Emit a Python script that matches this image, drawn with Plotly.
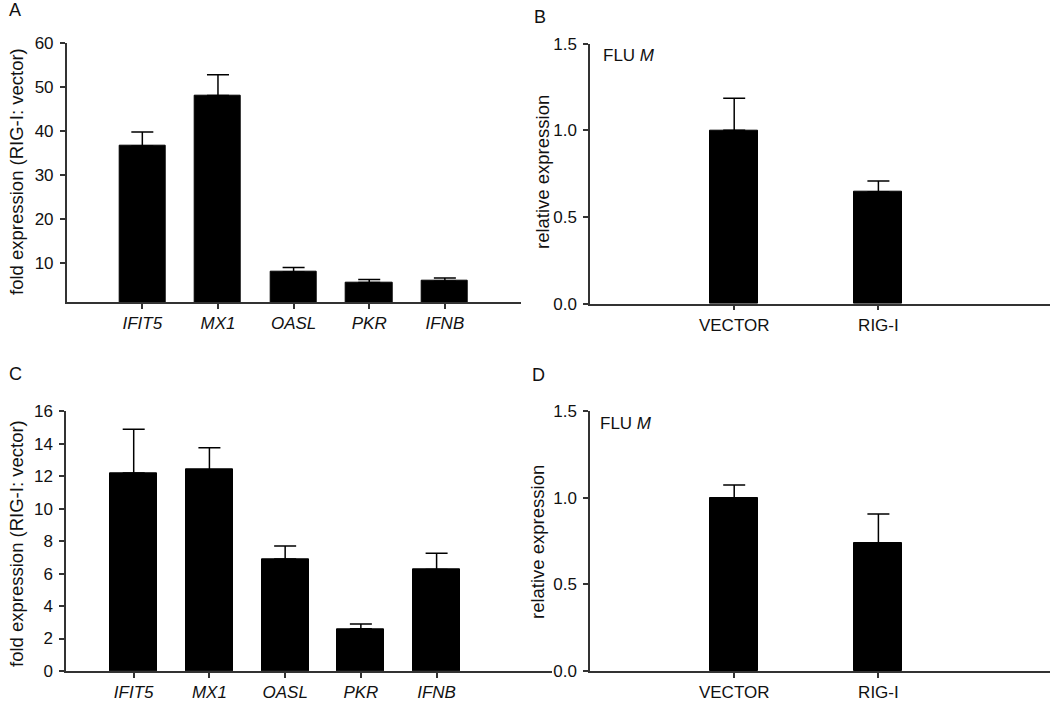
import plotly.graph_objects as go

# ---------------- data ----------------
genes = ["IFIT5", "MX1", "OASL", "PKR", "IFNB"]
fold_A = [36.5, 48.0, 7.9, 5.5, 5.8]
err_A = [3.2, 4.7, 1.0, 0.7, 0.7]

fold_C = [12.2, 12.4, 6.9, 2.6, 6.25]
err_C = [2.7, 1.35, 0.8, 0.3, 1.0]

groups = ["VECTOR", "RIG-I"]
rel_B = [1.0, 0.646]
err_B = [0.185, 0.062]
rel_D = [1.0, 0.74]
err_D = [0.073, 0.166]

FONT = "Liberation Sans, Arial, sans-serif"
AX = "#333333"
TXT = "#111111"
W, H = 1050, 703


def px_x(p):
    return p / W


def px_y(p):
    return 1 - p / H


fig = go.Figure()


def add_bars(x, y, e, xa, ya, width):
    fig.add_trace(go.Bar(
        x=x, y=y, xaxis=xa, yaxis=ya, width=width,
        marker=dict(color="black", line=dict(color="black", width=1)),
        error_y=dict(type="data", array=e, arrayminus=[0] * len(e), symmetric=False,
                     color="black", thickness=1.5, width=11),
        showlegend=False, hoverinfo="x+y",
    ))


add_bars(genes, fold_A, err_A, "x", "y", 0.61)
add_bars(groups, rel_B, err_B, "x2", "y2", 0.333)
add_bars(genes, fold_C, err_C, "x3", "y3", 0.62)
add_bars(groups, rel_D, err_D, "x4", "y4", 0.333)

axis_common = dict(showline=True, linecolor=AX, linewidth=1.5, ticks="outside",
                   ticklen=5, tickwidth=1.5, tickcolor=AX, showgrid=False,
                   zeroline=False, automargin=False,
                   tickfont=dict(family=FONT, size=17, color=TXT))
italic_font = dict(family=FONT, size=17, color=TXT, style="italic")
y_common = {**axis_common, "ticklabelstandoff": 3}

fig.update_layout(
    width=W, height=H, autosize=False,
    margin=dict(l=0, r=0, t=0, b=0, pad=0),
    paper_bgcolor="white", plot_bgcolor="white",
    bargap=0,
    xaxis=dict(domain=[px_x(66.7), px_x(520.5)], anchor="y", range=[-1, 5],
               **{**axis_common, "tickfont": italic_font}),
    yaxis=dict(domain=[px_y(302.3), px_y(42.7)], anchor="x", range=[1, 60],
               tickvals=[10, 20, 30, 40, 50, 60], **y_common),
    xaxis2=dict(domain=[px_x(590), 1.0], anchor="y2", range=[-1, 2.19], **axis_common),
    yaxis2=dict(domain=[px_y(303.7), px_y(43.7)], anchor="x2", range=[0, 1.5],
                tickvals=[0, 0.5, 1.0, 1.5], ticktext=["0.0", "0.5", "1.0", "1.5"], **y_common),
    xaxis3=dict(domain=[px_x(66), px_x(551.7)], anchor="y3", range=[-0.894, 5.52],
                **{**axis_common, "tickfont": italic_font}),
    yaxis3=dict(domain=[px_y(671), px_y(411.3)], anchor="x3", range=[0, 16],
                tickvals=[0, 2, 4, 6, 8, 10, 12, 14, 16], **y_common),
    xaxis4=dict(domain=[px_x(590), 1.0], anchor="y4", range=[-1, 2.19], **axis_common),
    yaxis4=dict(domain=[px_y(671), px_y(411)], anchor="x4", range=[0, 1.5],
                tickvals=[0, 0.5, 1.0, 1.5], ticktext=["0.0", "0.5", "1.0", "1.5"], **y_common),
)


def ann(text, x, y, size=17, angle=0, xanchor="center"):
    fig.add_annotation(text=text, x=px_x(x), y=px_y(y), xref="paper", yref="paper",
                       showarrow=False, textangle=angle, xanchor=xanchor, yanchor="middle",
                       font=dict(family=FONT, size=size, color=TXT))


# panel letters
ann("A", 15, 10, size=18)
ann("B", 540, 17, size=18)
ann("C", 15, 374, size=18)
ann("D", 538, 375, size=18)

# y-axis titles
ann("fold expression (RIG-I: vector)", 16, 172, size=18.5, angle=-90)
ann("relative expression", 542, 172, size=18.5, angle=-90)
ann("fold expression (RIG-I: vector)", 16, 544, size=18.5, angle=-90)
ann("relative expression", 537, 542, size=18.5, angle=-90)

# FLU M labels
ann("FLU <i>M</i>", 601, 55, xanchor="left")
ann("FLU <i>M</i>", 598, 423, xanchor="left")

fig.write_html("out.html", config={"displayModeBar": False},
               post_script="document.body.style.margin='0';")
